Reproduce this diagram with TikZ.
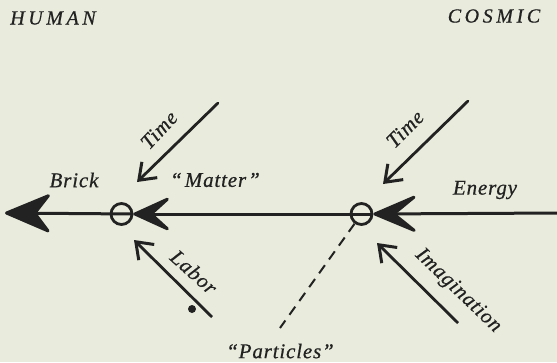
\documentclass[tikz,border=0pt]{standalone}
\usepackage{fontspec}
\setmainfont{Liberation Serif}
\newfontfamily\labfont[LetterSpace=4,FakeBold=0.6]{Liberation Serif}
\newfontfamily\capfont[LetterSpace=18,FakeBold=0.6]{Liberation Serif}
\usetikzlibrary{arrows.meta}
\definecolor{paper}{HTML}{E9EBDC}
\definecolor{ink}{HTML}{222222}
\begin{document}
\begin{tikzpicture}[x=1pt,y=-1pt,
  lab/.style={text=ink,font=\labfont\itshape\fontsize{21}{24}\selectfont,inner sep=0pt},
  captext/.style={text=ink,font=\capfont\itshape\fontsize{20}{22}\selectfont,inner sep=0pt},
  junction/.style={circle,draw=ink,line width=2.8pt,minimum size=21pt,inner sep=0pt},
  mainline/.style={draw=ink,line width=3pt},
  openarrow/.style={draw=ink,line width=2.8pt,-{Straight Barb[length=15pt,width=22pt,line width=3pt]}},
  dashline/.style={draw=ink,line width=2pt,dash pattern=on 10pt off 7pt}]
\fill[paper] (0,0) rectangle (557,362);
\useasboundingbox (0,0) rectangle (557,362);

% junctions
\node[junction] (cL) at (121.5,214) {};
\node[junction] (cR) at (361.5,214) {};
\coordinate (E) at (560,213);
\coordinate (W) at (5,213);

% main line
\draw[mainline,-{Stealth[length=52pt,width=44pt,inset=27pt,round]}] (E) -- (cR.east);
\draw[mainline,-{Stealth[length=44pt,width=40pt,inset=22pt,round]}] (cR.east) -- (cL.east);
\draw[mainline,-{Stealth[length=50pt,width=42pt,inset=16pt,round]}] (cL.east) -- (W);

% time arrows
\coordinate (t1s) at (218,103);
\coordinate (t1e) at (137,182);
\coordinate (t2s) at (468,101);
\coordinate (t2e) at (383,184);
\draw[openarrow,line cap=round] (t1s) -- (t1e);
\draw[openarrow,line cap=round] (t2s) -- (t2e);

% labor / imagination arrows
\coordinate (l1s) at (212,317);
\coordinate (l1e) at (134,240);
\coordinate (i1s) at (458,323);
\coordinate (i1e) at (377,243);
\draw[openarrow] (l1s) -- (l1e);
\draw[openarrow] (i1s) -- (i1e);
\node[circle,fill=ink,minimum size=8pt,inner sep=0pt] (dot) at (192,309) {};

% particles
\coordinate (P) at (280,328);
\draw[dashline] (cR) -- (P);

% labels
\node[captext] (human) at (53,18) {HUMAN};
\node[captext] (cosmic) at (494,16) {COSMIC};
\node[lab] (brick) at (74,180) {Brick};
\node[lab] (matter) at (215,180) {“\kern3pt Matter\kern2pt”};
\node[lab] (energy) at (485,190) {Energy};
\node[lab,rotate=47] (time1) at (159,130) {Time};
\node[lab,rotate=45] (time2) at (405,129) {Time};
\node[lab,rotate=-42] (labor) at (194,272) {Labor};
\node[lab,rotate=-44] (imag) at (458,291) {Imagination};
\node[lab] (part) at (280,351) {“Particles”};
\end{tikzpicture}
\end{document}
